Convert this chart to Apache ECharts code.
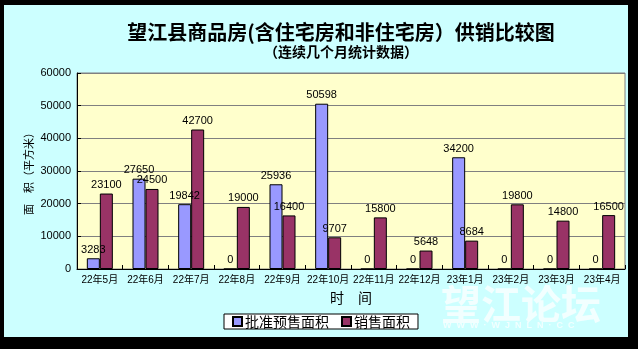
<!DOCTYPE html>
<html>
<head>
<meta charset="utf-8">
<script src="https://cdn.jsdelivr.net/npm/echarts@6/dist/echarts.min.js"></script>
<style>
html,body{margin:0;padding:0;background:#000;}
#c{width:638px;height:349px;}
</style>
</head>
<body>
<div id="c"></div>
<script>
var categories = ['22年5月','22年6月','22年7月','22年8月','22年9月','22年10月','22年11月','22年12月','23年1月','23年2月','23年3月','23年4月'];
var approvedPresale = [3283, 27650, 19842, 0, 25936, 50598, 0, 0, 34200, 0, 0, 0];
var soldArea = [23100, 24500, 42700, 19000, 16400, 9707, 15800, 5648, 8684, 19800, 14800, 16500];
var yTicks = [0, 10000, 20000, 30000, 40000, 50000, 60000];
var seriesNames = ['批准预售面积', '销售面积'];

var FONT = '"Liberation Sans", "Noto Sans CJK SC", sans-serif';
var CJK = '"Noto Sans CJK SC", sans-serif';

var chart = echarts.init(document.getElementById('c'), null, {renderer: 'canvas'});
chart.setOption({
  backgroundColor: '#000000',
  animation: false,
  title: [
    {
      text: '望江县商品房(含住宅房和非住宅房）供销比较图',
      left: 336, top: 17, textAlign: 'center',
      textStyle: {fontFamily: CJK, fontSize: 20, fontWeight: 'bold', color: '#000'}
    },
    {
      text: '（连续几个月统计数据）',
      left: 336, top: 40, textAlign: 'center',
      textStyle: {fontFamily: CJK, fontSize: 14, fontWeight: 'bold', color: '#000'}
    }
  ],
  graphic: [
    {type: 'rect', z: -100, silent: true, shape: {x: 4, y: 5, width: 624, height: 332}, style: {fill: '#CCFFFF'}},
    {type: 'text', z: -50, silent: true, left: 441, top: 284,
      style: {text: '望江论坛', font: 'bold 40px "Noto Sans CJK SC", sans-serif', fill: '#F2FFFF'}},
    {type: 'text', z: -50, silent: true, left: 443, top: 321,
      style: {text: 'W  W  W  ·  W  J  N  L  N  ·  C  C', font: 'bold 9px "Liberation Sans", sans-serif', fill: '#F2FFFF'}}
  ],
  legend: {
    data: seriesNames,
    left: 224, top: 314,
    padding: [0, 8, 0, 8],
    itemGap: 12,
    itemWidth: 9, itemHeight: 9,
    icon: 'rect',
    backgroundColor: '#FFFFFF',
    borderColor: '#000000', borderWidth: 1,
    textStyle: {fontFamily: CJK, fontSize: 14, color: '#000', lineHeight: 15, padding: [0, 0, 0, -2]}
  },
  grid: {
    left: 77, top: 73, right: 13, bottom: 80,
    show: true, backgroundColor: '#FFFFCC', borderColor: '#808080', borderWidth: 1
  },
  xAxis: {
    type: 'category',
    data: categories,
    name: '时　间',
    nameLocation: 'middle',
    nameGap: 22,
    nameMoveOverlap: false,
    nameTextStyle: {fontFamily: CJK, fontSize: 14, color: '#000'},
    axisLine: {lineStyle: {color: '#000', width: 1}},
    axisTick: {show: true, inside: true, length: 4, alignWithLabel: false, lineStyle: {color: '#000'}},
    axisLabel: {fontFamily: FONT, fontSize: 10, color: '#000', margin: 6, interval: 0},
    splitLine: {show: false}
  },
  yAxis: {
    type: 'value',
    min: yTicks[0], max: yTicks[yTicks.length - 1], interval: 10000,
    name: '面　积（平方米）',
    nameLocation: 'middle',
    nameRotate: 90,
    nameGap: 43,
    nameMoveOverlap: false,
    nameTextStyle: {fontFamily: CJK, fontSize: 11, color: '#000'},
    axisLine: {show: true, lineStyle: {color: '#000', width: 1}},
    axisTick: {show: true, inside: true, length: 4, lineStyle: {color: '#000'}},
    axisLabel: {fontFamily: FONT, fontSize: 11, color: '#000', margin: 6, formatter: function (v) { return String(v); }},
    splitLine: {show: true, lineStyle: {color: '#808080', width: 1}}
  },
  series: [
    {
      name: seriesNames[0], type: 'bar', data: approvedPresale,
      barWidth: 13, barGap: '0%',
      itemStyle: {color: '#9999FF', borderColor: '#000', borderWidth: 1},
      label: {show: true, position: 'top', distance: 3, fontFamily: FONT, fontSize: 11, color: '#000'}
    },
    {
      name: seriesNames[1], type: 'bar', data: soldArea,
      barWidth: 13, barGap: '0%',
      itemStyle: {color: '#993366', borderColor: '#000', borderWidth: 1},
      label: {show: true, position: 'top', distance: 3, fontFamily: FONT, fontSize: 11, color: '#000'}
    }
  ]
});
</script>
</body>
</html>
